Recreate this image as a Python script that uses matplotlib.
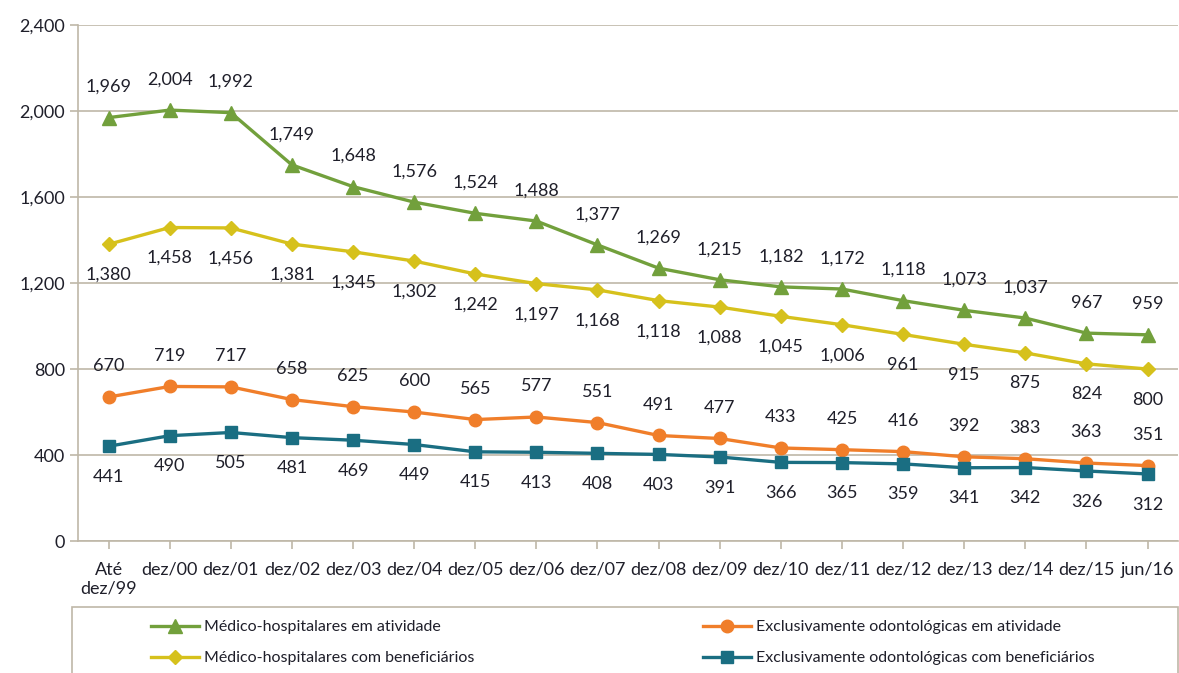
import numpy as np
import matplotlib.pyplot as plt
from matplotlib.patches import Rectangle

# categories and series
periodos = ['Até\ndez/99', 'dez/00', 'dez/01', 'dez/02', 'dez/03', 'dez/04', 'dez/05',
            'dez/06', 'dez/07', 'dez/08', 'dez/09', 'dez/10', 'dez/11', 'dez/12',
            'dez/13', 'dez/14', 'dez/15', 'jun/16']
med_ativ = [1969, 2004, 1992, 1749, 1648, 1576, 1524, 1488, 1377, 1269, 1215, 1182,
            1172, 1118, 1073, 1037, 967, 959]
med_benef = [1380, 1458, 1456, 1381, 1345, 1302, 1242, 1197, 1168, 1118, 1088, 1045,
             1006, 961, 915, 875, 824, 800]
odonto_ativ = [670, 719, 717, 658, 625, 600, 565, 577, 551, 491, 477, 433,
               425, 416, 392, 383, 363, 351]
odonto_benef = [441, 490, 505, 481, 469, 449, 415, 413, 408, 403, 391, 366,
                365, 359, 341, 342, 326, 312]

plt.rcParams['font.family'] = ['Lato', 'DejaVu Sans']
txt = '#1f1f2a'
grid_c = '#bfb7a8'

fig = plt.figure(figsize=(11.79, 6.73), dpi=100)
ax = fig.add_axes([0.0662, 0.196, 0.933, 0.767])

x = np.arange(len(periodos))

series = [
    (med_ativ, '#72a03c', '^', 10, 'Médico-hospitalares em atividade', 22),
    (med_benef, '#d6c11c', 'D', 7, 'Médico-hospitalares com beneficiários', -22),
    (odonto_ativ, '#f07e2a', 'o', 9, 'Exclusivamente odontológicas em atividade', 22),
    (odonto_benef, '#1a6e82', 's', 8, 'Exclusivamente odontológicas com beneficiários', -22),
]
handles = []
for vals, col, mk, ms, lab, off in series:
    h, = ax.plot(x, vals, color=col, marker=mk, markersize=ms, linewidth=2.4, label=lab)
    handles.append(h)
    for xi, v in zip(x, vals):
        ax.annotate('{:,}'.format(v), (xi, v), xytext=(0, off), textcoords='offset points',
                    ha='center', va='center', fontsize=13, color=txt)

ax.set_xlim(-0.5, len(periodos) - 0.5)
ax.set_ylim(0, 2400)
ax.set_yticks(np.arange(0, 2401, 400))
ax.set_yticklabels(['{:,}'.format(v) for v in range(0, 2401, 400)])
ax.set_xticks(x)
ax.set_xticklabels(periodos)
ax.grid(axis='y', color=grid_c, linewidth=1.2)
ax.set_axisbelow(True)
for s in ['top', 'right']:
    ax.spines[s].set_visible(False)
for s in ['left', 'bottom']:
    ax.spines[s].set_color(grid_c)
    ax.spines[s].set_linewidth(1.2)
ax.tick_params(axis='both', colors=grid_c, labelcolor=txt, labelsize=13, length=6, width=1.2)
ax.tick_params(axis='x', pad=9)

# legend box
fig.patches.append(Rectangle((0.061, -0.01), 0.938, 0.108, transform=fig.transFigure,
                             fill=False, edgecolor=grid_c, linewidth=1.2))
fig.legend(handles=handles[:2], loc='upper left', bbox_to_anchor=(0.116, 0.1),
           frameon=False, fontsize=11.5, labelcolor=txt, handlelength=3.0,
           handletextpad=0.3, labelspacing=1.05)
fig.legend(handles=handles[2:], loc='upper left', bbox_to_anchor=(0.584, 0.1),
           frameon=False, fontsize=11.5, labelcolor=txt, handlelength=3.0,
           handletextpad=0.3, labelspacing=1.05)

fig.savefig('out.png', dpi=100)
